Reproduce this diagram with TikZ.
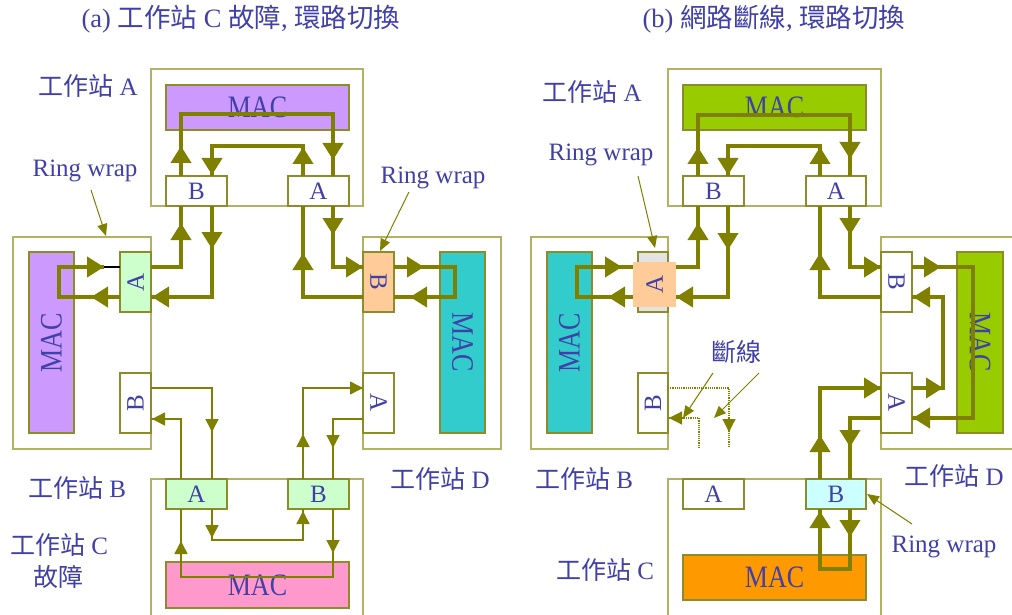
\documentclass[tikz,border=0pt]{standalone}
\usepackage{fontspec}
\usepackage{graphicx}
\setmainfont{Liberation Serif}
\newfontfamily\cjk{Noto Sans CJK TC}
\usetikzlibrary{arrows.meta}
\definecolor{textc}{RGB}{64,64,168}
\definecolor{lineol}{RGB}{128,128,0}
\definecolor{stationc}{RGB}{178,178,100}
\definecolor{portc}{RGB}{140,140,40}
\definecolor{macpurple}{HTML}{CC99FF}
\definecolor{macteal}{HTML}{33CCCC}
\definecolor{macpink}{HTML}{FF99CC}
\definecolor{macgreen}{HTML}{99CC00}
\definecolor{macorange}{HTML}{FF9900}
\definecolor{pgreen}{HTML}{CCFFCC}
\definecolor{porange}{HTML}{FFCC99}
\definecolor{pcyan}{HTML}{CCFFFF}
\definecolor{pgray}{HTML}{E3E3E3}
\newcommand{\bx}[6]{%
  \pgfmathsetmacro\bxw{#5-#3}\pgfmathsetmacro\bxh{#6-#4}%
  \node[#2, minimum width=\bxw pt, minimum height=\bxh pt, inner sep=0pt, outer sep=0pt] (#1) at ({(#3+#5)/2},{(#4+#6)/2}) {};}
\newcommand{\mactxt}{{\fontsize{26}{28}\selectfont\scalebox{1}[1.2]{MAC}}}
\begin{document}
\begin{tikzpicture}[x=1pt,y=-1pt,
  station/.style={draw=stationc, line width=1.5pt, fill=white},
  port/.style={draw=portc, line width=1.2pt, fill=white},
  mac/.style={draw=portc, line width=1.2pt},
  lbl/.style={text=textc, font=\fontsize{25}{28}\selectfont, inner sep=0pt},
  ttl/.style={text=textc, font=\fontsize{26.5}{30}\selectfont, inner sep=0pt},
  thk/.style={draw=lineol, line width=4pt},
  thn/.style={draw=lineol, line width=1.5pt},
  ta/.style={thk, -{Triangle[length=17pt,width=20pt]}},
  sa/.style={thn, -{Triangle[length=13pt,width=13pt]}},
  dt/.style={draw=lineol, line width=1.2pt, densely dotted},
  da/.style={draw=lineol, line width=1.2pt, -{Triangle[length=13pt,width=13pt]}},
  note/.style={draw=lineol, line width=1pt, -{Triangle[length=12pt,width=10pt]}}]
\useasboundingbox (0,0) rectangle (1012,615);
\clip (0,0) rectangle (1012,615);
\fill[white] (0,0) rectangle (1012,615);

% ================= (a) =================
\bx{stA}{station}{151}{69}{363}{206}
\bx{stB}{station}{13}{237}{151}{449}
\bx{stD}{station}{363}{237}{501}{449}
\bx{stC}{station}{151}{479}{363}{625}
\bx{macA}{mac,fill=macpurple}{166}{85}{349}{130}
\bx{macB}{mac,fill=macpurple}{29}{252}{74}{433}
\bx{macD}{mac,fill=macteal}{440}{252}{485}{433}
\bx{macC}{mac,fill=macpink}{166}{562}{349}{608}
\bx{pAB}{port}{166}{176}{227}{206}
\bx{pAA}{port}{288}{176}{349}{206}
\bx{pBA}{port,fill=pgreen}{120}{252}{151}{312}
\bx{pBB}{port}{120}{373}{151}{433}
\bx{pDB}{port,fill=porange}{363}{252}{394}{312}
\bx{pDA}{port}{363}{373}{394}{433}
\bx{pCA}{port,fill=pgreen}{166}{479}{227}{509}
\bx{pCB}{port,fill=pgreen}{288}{479}{349}{509}

\node[lbl] (tmacA) at (macA) {\mactxt};
\node[lbl,rotate=90] (tmacB) at (macB) {\mactxt};
\node[lbl,rotate=-90] (tmacD) at (macD) {\mactxt};
\node[lbl] (tmacC) at (macC) {\mactxt};
\node[lbl] (tpAB) at (pAB) {B};
\node[lbl] (tpAA) at (pAA) {A};
\node[lbl,rotate=90] (tpBA) at (pBA) {A};
\node[lbl,rotate=90] (tpBB) at (pBB) {B};
\node[lbl,rotate=-90] (tpDB) at (pDB) {B};
\node[lbl,rotate=-90] (tpDA) at (pDA) {A};
\node[lbl] (tpCA) at (pCA) {A};
\node[lbl] (tpCB) at (pCB) {B};

\node[ttl] (titleA) at (241,19) {(a) {\cjk 工作站} C {\cjk 故障}, {\cjk 環路切換}};
\node[lbl] (lA) at (88,86) {{\cjk 工作站} A};
\node[lbl] (lB) at (77,488) {{\cjk 工作站} B};
\node[lbl] (lC) at (59,545) {{\cjk 工作站} C};
\node[lbl] (lC2) at (59,577) {\cjk 故障};
\node[lbl] (lD) at (440,479) {{\cjk 工作站} D};
\node[lbl] (rw1) at (85,171) {Ring wrap};
\node[lbl] (rw2) at (433,178) {Ring wrap};
\coordinate (rw1s) at (91,190); \coordinate (rw1e) at (106,236);
\coordinate (rw2s) at (409,192); \coordinate (rw2e) at (380,251);
\draw[note] (rw1s) -- (rw1e);
\draw[note] (rw2s) -- (rw2e);

% thick ring paths
\draw[thk] (181,176) -- (181,114) -- (333,114) -- (333,176);
\draw[thk] (303,176) -- (303,146) -- (212,146) -- (212,176);
\draw[thk] (151,267) -- (181,267) -- (181,206);
\draw[thk] (212,206) -- (212,297) -- (151,297);
\draw[thk] (303,206) -- (303,297) -- (363,297);
\draw[thk] (333,206) -- (333,267) -- (363,267);
\draw[thk] (120,297) -- (59,297) -- (59,267) -- (104,267);
\draw[black, line width=2.5pt] (104,267) -- (120,267);
\draw[thk] (394,267) -- (455,267) -- (455,297) -- (394,297);
\draw[ta] (181,168) -- (181,146);
\draw[ta] (333,140) -- (333,160);
\draw[ta] (303,168) -- (303,147);
\draw[ta] (212,155) -- (212,175);
\draw[ta] (181,245) -- (181,223);
\draw[ta] (212,230) -- (212,249);
\draw[ta] (172,297) -- (152,297);
\draw[ta] (303,275) -- (303,253);
\draw[ta] (333,215) -- (333,235);
\draw[ta] (345,267) -- (363,267);
\draw[ta] (110,297) -- (91,297);
\draw[ta] (85,267) -- (104,267);
\draw[ta] (405,267) -- (424,267);
\draw[ta] (430,297) -- (410,297);
% thin paths
\draw[thn] (151,388) -- (212,388) -- (212,479);
\draw[thn] (181,479) -- (181,419) -- (151,419);
\draw[thn] (303,479) -- (303,388) -- (363,388);
\draw[thn] (363,419) -- (333,419) -- (333,479);
\draw[thn] (212,509) -- (212,540) -- (303,540) -- (303,509);
\draw[thn] (333,509) -- (333,577) -- (181,577) -- (181,509);
\draw[sa] (212,415) -- (212,432);
\draw[sa] (165,419) -- (152,419);
\draw[sa] (345,388) -- (363,388);
\draw[sa] (303,450) -- (303,434);
\draw[sa] (333,432) -- (333,448);
\draw[sa] (212,522) -- (212,538);
\draw[sa] (303,525) -- (303,511);
\draw[sa] (333,538) -- (333,553);
\draw[sa] (181,556) -- (181,541);

% ================= (b) =================
\bx{rstA}{station}{668}{69}{881}{206}
\bx{rstB}{station}{531}{237}{668}{449}
\bx{rstD}{station}{881}{237}{1020}{449}
\bx{rstC}{station}{668}{479}{881}{625}
\bx{rmacA}{mac,fill=macgreen}{683}{85}{866}{130}
\bx{rmacB}{mac,fill=macteal}{547}{252}{592}{433}
\bx{rmacD}{mac,fill=macgreen}{957}{252}{1003}{433}
\bx{rmacC}{mac,fill=macorange}{683}{555}{866}{600}
\bx{rpAB}{port}{683}{176}{744}{206}
\bx{rpAA}{port}{806}{176}{866}{206}
\bx{rpBA}{port,fill=pgray}{638}{252}{668}{312}
\bx{rwrap}{fill=porange}{633}{262}{676}{307}
\bx{rpBB}{port}{638}{373}{668}{433}
\bx{rpDB}{port}{881}{252}{912}{312}
\bx{rpDA}{port}{881}{373}{912}{433}
\bx{rpCA}{port}{683}{479}{744}{509}
\bx{rpCB}{port,fill=pcyan}{806}{479}{866}{509}

\node[lbl] (rtmacA) at (rmacA) {\mactxt};
\node[lbl,rotate=90] (rtmacB) at (rmacB) {\mactxt};
\node[lbl,rotate=-90] (rtmacD) at (rmacD) {\mactxt};
\node[lbl] (rtmacC) at (rmacC) {\mactxt};
\node[lbl] (rtpAB) at (rpAB) {B};
\node[lbl] (rtpAA) at (rpAA) {A};
\node[lbl,rotate=90] (rtpBA) at (rwrap) {A};
\node[lbl,rotate=90] (rtpBB) at (rpBB) {B};
\node[lbl,rotate=-90] (rtpDB) at (rpDB) {B};
\node[lbl,rotate=-90] (rtpDA) at (rpDA) {A};
\node[lbl] (rtpCA) at (rpCA) {A};
\node[lbl] (rtpCB) at (rpCB) {B};

\node[ttl] (titleB) at (774,19) {(b) {\cjk 網路斷線}, {\cjk 環路切換}};
\node[lbl] (rlA) at (592,92) {{\cjk 工作站} A};
\node[lbl] (rlB) at (584,479) {{\cjk 工作站} B};
\node[lbl] (rlC) at (605,570) {{\cjk 工作站} C};
\node[lbl] (rlD) at (954,476) {{\cjk 工作站} D};
\node[lbl] (rrw1) at (601,155) {Ring wrap};
\node[lbl] (rrw2) at (944,547) {Ring wrap};
\node[lbl] (brk) at (736,352) {\cjk 斷線};
\coordinate (rrw1s) at (638,176); \coordinate (rrw1e) at (655,248);
\coordinate (rrw2s) at (912,524); \coordinate (rrw2e) at (867,494);
\coordinate (brk1s) at (713,373); \coordinate (brk1e) at (683,418);
\coordinate (brk2s) at (759,373); \coordinate (brk2e) at (714,418);
\draw[note] (rrw1s) -- (rrw1e);
\draw[note] (rrw2s) -- (rrw2e);
\draw[note] (brk1s) -- (brk1e);
\draw[note] (brk2s) -- (brk2e);

% thick ring paths
\draw[thk] (698,176) -- (698,115) -- (850,115) -- (850,176);
\draw[thk] (820,176) -- (820,146) -- (728,146) -- (728,176);
\draw[thk] (676,267) -- (698,267) -- (698,206);
\draw[thk] (728,206) -- (728,297) -- (676,297);
\draw[thk] (820,206) -- (820,297) -- (881,297);
\draw[thk] (850,206) -- (850,267) -- (881,267);
\draw[thk] (633,297) -- (577,297) -- (577,267) -- (633,267);
\draw[thk] (912,267) -- (973,267) -- (973,418) -- (912,418);
\draw[thk] (912,388) -- (943,388) -- (943,297) -- (912,297);
\draw[thk] (820,479) -- (820,388) -- (881,388);
\draw[thk] (881,418) -- (850,418) -- (850,479);
\draw[thk] (820,509) -- (820,569) -- (850,569) -- (850,509);
\draw[ta] (698,168) -- (698,147);
\draw[ta] (850,140) -- (850,159);
\draw[ta] (820,168) -- (820,147);
\draw[ta] (728,155) -- (728,175);
\draw[ta] (698,245) -- (698,223);
\draw[ta] (728,230) -- (728,250);
\draw[ta] (695,297) -- (676,297);
\draw[ta] (820,275) -- (820,253);
\draw[ta] (850,215) -- (850,235);
\draw[ta] (863,267) -- (881,267);
\draw[ta] (627,297) -- (608,297);
\draw[ta] (603,267) -- (622,267);
\draw[ta] (922,267) -- (941,267);
\draw[ta] (935,418) -- (913,418);
\draw[ta] (925,388) -- (943,388);
\draw[ta] (930,297) -- (913,297);
\draw[ta] (820,457) -- (820,435);
\draw[ta] (863,388) -- (881,388);
\draw[ta] (850,428) -- (850,447);
\draw[ta] (820,530) -- (820,511);
\draw[ta] (850,518) -- (850,537);
% broken (dotted) paths
\draw[dt] (668,388) -- (729,388) -- (729,448);
\draw[dt] (699,448) -- (699,418) -- (669,418);
\draw[da] (729,418) -- (729,432);
\draw[da] (685,418) -- (669,418);
\end{tikzpicture}
\end{document}
